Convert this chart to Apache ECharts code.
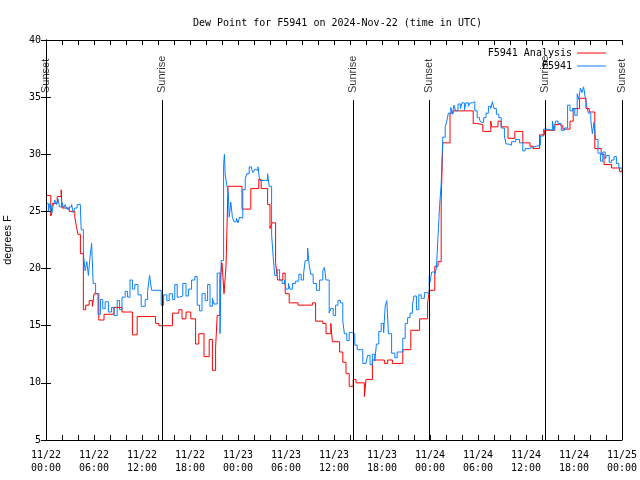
<!DOCTYPE html>
<html>
<head>
<meta charset="utf-8">
<script src="https://cdn.jsdelivr.net/npm/echarts@6/dist/echarts.min.js"></script>
<style>html,body{margin:0;padding:0;background:#fff}#c{width:640px;height:480px}</style>
</head>
<body>
<div id="c"></div>
<script>
// Hours since 2024-11-22 00:00 UTC
const analysisHours = [0,0.6,0.8,1.4,1.9,2.0,2.9,3.6,3.8,4.0,4.3,4.67,4.96,5.4,5.8,6.0,6.6,7.25,8.5,9.5,10.8,11.4,13.7,14.1,15.8,16.6,17.0,17.5,18.1,18.7,19.1,19.75,20.4,20.8,21.2,21.4,21.75,22.0,22.25,22.5,22.75,
 24.5,25.6,26.6,26.9,27.7,28.0,28.25,28.7,28.95,29.6,29.9,30.4,31.5,33.3,33.7,34.6,35.0,35.6,35.8,36.7,37.1,37.5,37.9,38.4,38.75,39.8,40.0,40.8,42.3,42.7,43.3,44.6,45.6,46.7,47.7,47.9,
 48.6,49.0,49.4,49.6,50.5,50.9,53.4,53.8,54.6,55.6,55.7,56.5,56.9,57.75,58.6,59.6,60.5,60.9,61.7,62.3,63.6,64.2,64.6,65.5,65.9,66.7,67.5,67.9,68.6,69.4,69.75,70.7,71.7,72];
const analysisValues = [26.4,24.6,25.7,26.3,26.9,25.3,25.0,24.5,23.7,23.0,21.3,16.4,16.8,17.2,16.7,17.8,15.5,16.0,16.6,16.2,14.2,15.8,15.2,15.0,16.1,16.4,15.6,16.2,15.6,13.4,14.3,12.3,13.8,11.1,13.1,15.9,19.0,20.5,17.8,20.2,27.2,
 25.2,27.0,27.8,27.0,25.6,23.5,24.0,20.5,19.0,19.6,17.8,17.0,16.8,17.0,15.4,15.2,14.3,15.2,13.6,12.7,11.8,10.8,9.7,10.3,10.0,8.8,10.3,12.0,11.7,12.0,11.7,12.9,14.6,15.6,16.9,18.1,
 20.2,20.6,26.0,31.0,33.6,33.8,32.7,32.6,32.0,32.9,32.4,32.9,32.4,31.4,32.0,31.0,30.7,30.5,31.7,32.1,32.6,32.5,32.2,32.9,34.0,34.9,34.0,33.7,30.5,30.0,29.1,28.8,28.5,28.5];

const obsHours = [0.0,0.3,0.5,0.7,0.9,1.1,1.3,1.5,1.7,2.0,2.2,2.4,2.6,2.9,3.2,3.4,3.6,3.9,4.3,4.4,4.67,4.9,5.1,5.3,5.5,5.7,5.9,6.2,6.5,6.8,7.1,7.4,7.8,8.2,8.5,8.9,9.2,9.5,9.9,10.2,10.5,10.8,11.1,11.5,11.9,12.4,12.7,12.95,13.2,13.9,14.4,14.7,15.1,15.4,15.8,16.1,16.4,16.7,17.1,17.5,17.8,18.2,18.6,18.9,19.2,19.5,19.9,20.2,20.5,20.8,21.0,21.4,21.75,21.9,22.2,22.3,22.4,22.6,22.8,22.9,23.1,23.3,23.5,23.8,
 24.0,24.2,24.4,24.6,24.9,25.1,25.4,25.7,25.9,26.1,26.3,26.5,26.7,27.3,27.7,27.9,28.2,28.4,28.6,28.9,29.2,29.5,29.8,30.0,30.3,30.5,30.8,31.2,31.6,31.9,32.2,32.4,32.7,32.9,33.1,33.4,33.8,34.2,34.6,34.8,35.0,35.4,35.6,35.9,36.2,36.5,36.8,37.1,37.3,37.6,37.9,38.3,38.6,38.9,39.3,39.6,40.0,40.2,40.5,40.8,41.1,41.3,41.6,41.9,42.2,42.4,42.6,42.8,43.2,43.6,43.9,44.2,44.6,44.9,45.2,45.5,45.8,46.0,46.3,46.6,46.9,47.3,47.6,47.9,
 48.0,48.2,48.6,48.8,49.0,49.2,49.4,49.5,49.6,49.9,50.1,50.3,50.6,50.8,51.0,51.2,51.5,51.8,52.0,52.3,52.5,52.8,53.0,53.3,53.6,53.9,54.2,54.4,54.7,55.0,55.3,55.6,55.8,56.0,56.3,56.6,56.9,57.3,57.5,57.8,58.2,58.7,59.2,59.6,59.9,60.4,60.8,61.3,61.8,62.2,62.8,63.3,63.5,63.7,64.0,64.4,64.8,65.2,65.5,65.8,66.1,66.4,66.6,66.8,67.0,67.2,67.4,67.6,67.8,68.1,68.3,68.5,68.7,69.0,69.3,69.6,69.9,70.1,70.4,70.7,71.0,71.3,71.6,72.0];
const obsValues = [25.7,25.0,25.7,24.7,25.5,26.0,25.6,26.1,25.4,25.8,25.3,25.6,25.2,25.4,25.6,24.9,25.3,25.6,25.3,23.4,21.3,19.8,20.6,19.4,21.0,22.2,18.7,17.8,16.0,17.3,16.5,17.1,16.2,16.6,15.9,17.2,16.4,17.5,18.0,17.5,19.0,18.2,18.6,17.7,16.7,17.3,18.0,19.4,18.1,18.1,16.8,17.7,17.2,17.8,17.3,18.6,17.5,17.6,18.7,17.6,18.2,19.0,19.3,16.8,16.3,17.8,17.2,18.6,16.7,17.4,16.9,19.6,14.3,20.7,29.0,30.0,28.2,27.3,26.5,24.5,25.8,24.5,24.1,24.4,
 24.0,24.5,24.4,26.9,27.8,28.3,28.9,28.7,28.4,28.7,28.6,28.9,27.7,27.7,28.3,27.2,23.0,21.0,19.4,19.9,19.0,18.7,19.0,18.2,18.7,18.2,18.7,18.9,19.5,19.0,19.6,20.7,21.8,20.3,19.5,18.7,18.1,19.0,19.8,20.1,19.0,16.1,16.5,15.9,16.8,17.2,17.0,15.4,14.3,13.7,14.4,14.3,13.3,12.9,12.9,11.7,11.7,12.4,11.6,12.5,11.9,13.4,14.5,15.2,14.4,16.7,17.2,14.3,12.6,12.2,12.7,12.7,13.9,15.2,15.7,16.1,16.8,17.6,16.4,17.7,17.4,17.9,17.8,19.3,
 18.8,19.7,19.5,20.0,22.8,25.5,27.4,29.5,31.5,32.4,32.9,33.6,34.1,33.5,34.3,33.8,34.4,34.0,34.5,33.9,34.5,34.2,34.5,34.6,33.8,33.2,33.0,32.8,33.2,33.6,34.2,34.0,34.6,34.0,33.5,33.2,32.3,31.6,30.9,30.8,31.1,31.3,31.0,30.3,30.5,30.6,30.7,30.8,31.6,32.2,32.1,32.9,32.1,32.9,32.7,32.1,32.3,34.3,33.8,34.0,33.4,35.3,34.8,35.8,35.4,35.9,35.0,34.2,33.6,33.0,31.8,32.8,31.3,30.1,29.4,30.2,29.6,29.9,29.3,29.5,29.8,29.2,28.8,28.3];

const eventHours = [0, 14.5, 38.4, 47.9, 62.4, 72];
const eventNames = ['Sunset', 'Sunrise', 'Sunrise', 'Sunset', 'Sunrise', 'Sunset'];
const eventLineTop = 34.75;

const yTicks = [5,10,15,20,25,30,35,40];
const titleText = 'Dew Point for F5941 on 2024-Nov-22 (time in UTC)';
const analysisName = 'F5941 Analysis';
const obsName = 'F5941';

const zip = (a, b) => a.map((v, i) => [v, b[i]]);
const mono = 'DejaVu Sans Mono';
const RED = '#ff0000', BLUE = '#0a80ff';

const chart = echarts.init(document.getElementById('c'), null, {renderer: 'canvas'});
const legendCommon = {orient: 'vertical', align: 'right', right: 29, icon: 'rect',
  itemWidth: 29, itemHeight: 1, itemGap: 2,
  textStyle: {fontFamily: mono, fontSize: 10, color: '#000'}};
chart.setOption({
  animation: false,
  backgroundColor: '#fff',
  title: {
    text: titleText, left: 188, top: 13,
    textStyle: {fontFamily: mono, fontSize: 10, fontWeight: 'normal', color: '#000'}
  },
  legend: [
    Object.assign({}, legendCommon, {data: [{name: analysisName, itemStyle: {color: RED}}], top: 43}),
    Object.assign({}, legendCommon, {data: [{name: obsName, itemStyle: {color: BLUE}}], top: 56})
  ],
  grid: {left: 46, right: 18, top: 40, bottom: 40, containLabel: false, outerBoundsMode: 'none'},
  xAxis: [
    {type: 'value', min: 0, max: 72, interval: 6, position: 'bottom',
     axisLine: {lineStyle: {color: '#000', width: 1}},
     axisTick: {inside: true, length: 5, lineStyle: {color: '#000'}},
     minorTick: {show: true, splitNumber: 3, length: 5, lineStyle: {color: '#000'}},
     splitLine: {show: false},
     axisLabel: {fontFamily: mono, fontSize: 10, color: '#000', lineHeight: 13, margin: 9,
       formatter: v => { const d = 22 + Math.floor(v / 24); const h = v % 24;
         return '11/' + d + '\n' + String(h).padStart(2, '0') + ':00'; }}},
    {type: 'value', min: 0, max: 72, interval: 6, position: 'top',
     axisLine: {lineStyle: {color: '#000', width: 1}},
     axisTick: {inside: true, length: 5, lineStyle: {color: '#000'}},
     minorTick: {show: true, splitNumber: 3, length: 5, lineStyle: {color: '#000'}},
     splitLine: {show: false}, axisLabel: {show: false}}
  ],
  yAxis: [
    {type: 'value', min: yTicks[0], max: yTicks[yTicks.length - 1], interval: 5, position: 'left',
     name: 'degrees F', nameLocation: 'middle', nameGap: 33, nameRotate: 90,
     nameTextStyle: {fontFamily: 'Liberation Sans', fontSize: 11, color: '#000'},
     axisLine: {show: true, lineStyle: {color: '#000', width: 1}},
     axisTick: {show: true, inside: true, length: 5, lineStyle: {color: '#000'}},
     splitLine: {show: false},
     axisLabel: {fontFamily: mono, fontSize: 10, color: '#000', margin: 5}},
    {type: 'value', min: yTicks[0], max: yTicks[yTicks.length - 1], interval: 5, position: 'right',
     axisLine: {show: true, lineStyle: {color: '#000', width: 1}},
     axisTick: {show: true, inside: true, length: 5, lineStyle: {color: '#000'}},
     splitLine: {show: false}, axisLabel: {show: false}}
  ],
  series: [
    {type: 'scatter', name: 'events', xAxisIndex: 0, yAxisIndex: 0, silent: true, clip: false,
     symbolSize: 0, z: 1,
     data: eventHours.map(h => [h, eventLineTop]),
     label: {show: true, position: [0, -7], rotate: 90, align: 'left', verticalAlign: 'middle',
       fontFamily: 'Liberation Sans', fontSize: 11, color: '#000',
       formatter: p => eventNames[p.dataIndex]},
     markLine: {silent: true, symbol: 'none', animation: false,
       lineStyle: {color: '#000', width: 1, type: 'solid'}, label: {show: false},
       data: eventHours.map(h => [{coord: [h, yTicks[0]]}, {coord: [h, eventLineTop]}])}},
    {type: 'line', name: analysisName, step: 'end', symbol: 'none', showSymbol: false,
     data: zip(analysisHours, analysisValues), z: 2,
     itemStyle: {color: RED}, lineStyle: {color: RED, width: 1}},
    {type: 'line', name: obsName, step: 'end', symbol: 'none', showSymbol: false,
     data: zip(obsHours, obsValues), z: 3,
     itemStyle: {color: BLUE}, lineStyle: {color: BLUE, width: 1}}
  ]
});
</script>
</body>
</html>
